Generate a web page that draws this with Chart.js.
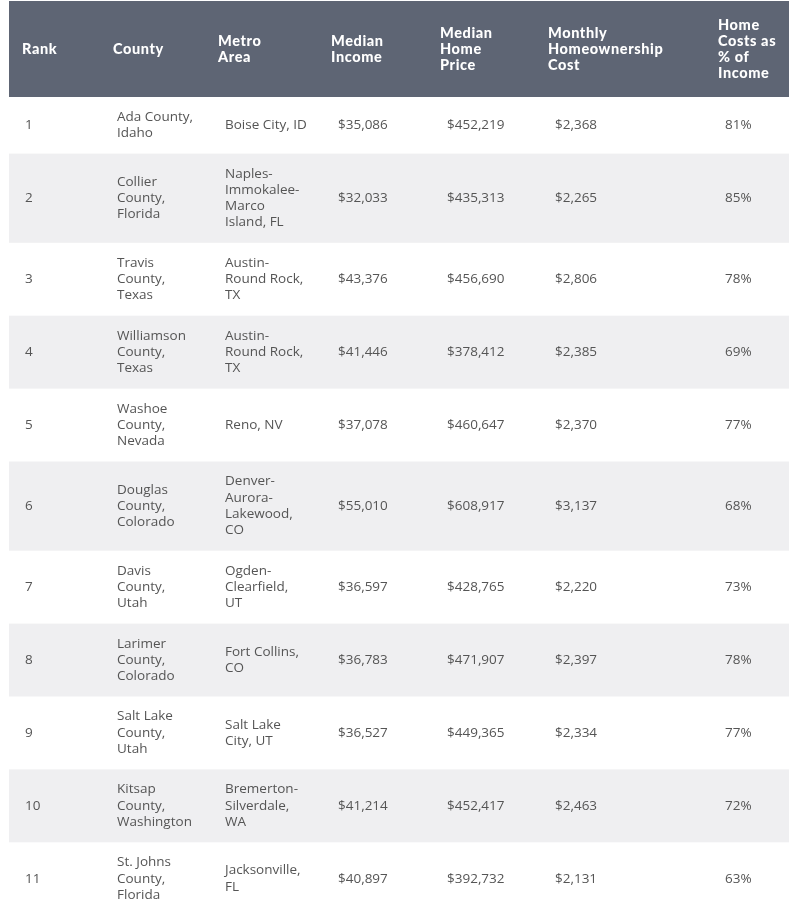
<!DOCTYPE html>
<html>
<head>
<meta charset="utf-8">
<script src="https://cdn.jsdelivr.net/npm/chart.js@4/dist/chart.umd.min.js"></script>
<style>
  html, body { margin: 0; padding: 0; background: #ffffff; overflow: hidden; }
  #wrap { width: 803px; height: 909px; }
</style>
</head>
<body>
<div id="wrap"><canvas id="tableChart" width="803" height="909"></canvas></div>
<script>
// ─── Table data ──────────────────────────────────────────────────────
const headers = [
  ["Rank"],
  ["County"],
  ["Metro", "Area"],
  ["Median", "Income"],
  ["Median", "Home", "Price"],
  ["Monthly", "Homeownership", "Cost"],
  ["Home", "Costs as", "% of", "Income"],
];
const ranks = [1, 2, 3, 4, 5, 6, 7, 8, 9, 10, 11];
const counties = [
  "Ada County,\nIdaho",
  "Collier\nCounty,\nFlorida",
  "Travis\nCounty,\nTexas",
  "Williamson\nCounty,\nTexas",
  "Washoe\nCounty,\nNevada",
  "Douglas\nCounty,\nColorado",
  "Davis\nCounty,\nUtah",
  "Larimer\nCounty,\nColorado",
  "Salt Lake\nCounty,\nUtah",
  "Kitsap\nCounty,\nWashington",
  "St. Johns\nCounty,\nFlorida",
];
const metros = [
  "Boise City, ID",
  "Naples-\nImmokalee-\nMarco\nIsland, FL",
  "Austin-\nRound Rock,\nTX",
  "Austin-\nRound Rock,\nTX",
  "Reno, NV",
  "Denver-\nAurora-\nLakewood,\nCO",
  "Ogden-\nClearfield,\nUT",
  "Fort Collins,\nCO",
  "Salt Lake\nCity, UT",
  "Bremerton-\nSilverdale,\nWA",
  "Jacksonville,\nFL",
];
const medianIncome = [35086, 32033, 43376, 41446, 37078, 55010, 36597, 36783, 36527, 41214, 40897];
const medianPrice = [452219, 435313, 456690, 378412, 460647, 608917, 428765, 471907, 449365, 452417, 392732];
const monthlyCost = [2368, 2265, 2806, 2385, 2370, 3137, 2220, 2397, 2334, 2463, 2131];
const costPct = [81, 85, 78, 69, 77, 68, 73, 78, 77, 72, 63];

// ─── Layout / style ─────────────────────────────────────────────────
const TABLE_LEFT = 9;
const TABLE_RIGHT = 789;
const TABLE_TOP = 1;
const HEAD_X = [22, 113, 218, 331, 440, 548, 718];
const CELL_X = [25, 117, 225, 338, 447, 555, 725];
const HEAD_LINE = 16;
const HEAD_PAD = 32;
const ROW_LINE = 16.3;
const ROW_PAD = 24;
const HEAD_BG = "#5e6574";
const STRIPE_BG = "#efeff1";
const TEXT_COLOR = "#555555";
const HEAD_FONT = "900 14.5px Lato";
const HEAD_SPACING = "0.6px";
const CELL_FONT = "13.5px 'Open Sans'";

const money = (v) => "$" + v.toLocaleString("en-US");

// Build row cells (arrays of lines) from the data arrays
const rows = ranks.map((r, i) => [
  [String(r)],
  counties[i].split("\n"),
  metros[i].split("\n"),
  [money(medianIncome[i])],
  [money(medianPrice[i])],
  [money(monthlyCost[i])],
  [costPct[i] + "%"],
]);

// ─── Plugin: draws the table through the chart's x / y scales ───────
const tablePlugin = {
  id: "tablePlugin",
  beforeDatasetsDraw(chart) {
    const { ctx, scales: { x, y } } = chart;
    const px = (v) => x.getPixelForValue(v);
    const py = (v) => y.getPixelForValue(v);

    ctx.save();
    ctx.textBaseline = "middle";
    ctx.textAlign = "left";

    // header
    const headLines = Math.max(...headers.map((h) => h.length));
    const headH = headLines * HEAD_LINE + HEAD_PAD;
    ctx.fillStyle = HEAD_BG;
    ctx.fillRect(px(TABLE_LEFT), py(TABLE_TOP), px(TABLE_RIGHT) - px(TABLE_LEFT), py(TABLE_TOP + headH) - py(TABLE_TOP));
    ctx.fillStyle = "#ffffff";
    ctx.font = HEAD_FONT;
    if ("letterSpacing" in ctx) ctx.letterSpacing = HEAD_SPACING;
    const headMid = TABLE_TOP + headH / 2;
    headers.forEach((lines, c) => {
      lines.forEach((t, k) => {
        const yy = headMid + (k - (lines.length - 1) / 2) * HEAD_LINE;
        ctx.fillText(t, px(HEAD_X[c]), py(yy));
      });
    });
    if ("letterSpacing" in ctx) ctx.letterSpacing = "0px";

    // body rows
    let top = TABLE_TOP + headH;
    rows.forEach((cells, r) => {
      const n = Math.max(...cells.map((c) => c.length));
      const h = n * ROW_LINE + ROW_PAD;
      if (r % 2 === 1) {
        ctx.fillStyle = STRIPE_BG;
        ctx.fillRect(px(TABLE_LEFT), py(top), px(TABLE_RIGHT) - px(TABLE_LEFT), py(top + h) - py(top));
      }
      ctx.fillStyle = TEXT_COLOR;
      ctx.font = CELL_FONT;
      const mid = top + h / 2;
      cells.forEach((lines, c) => {
        lines.forEach((t, k) => {
          const yy = mid + (k - (lines.length - 1) / 2) * ROW_LINE;
          ctx.fillText(t, px(CELL_X[c]), py(yy));
        });
      });
      top += h;
    });
    ctx.restore();
  },
};

new Chart(document.getElementById("tableChart"), {
  type: "scatter",
  data: { datasets: [{ data: [], pointRadius: 0 }] },
  options: {
    responsive: false,
    animation: false,
    layout: { padding: 0 },
    plugins: { legend: { display: false }, tooltip: { enabled: false } },
    scales: {
      x: { type: "linear", min: 0, max: 803, display: false },
      y: { type: "linear", min: 0, max: 909, reverse: true, display: false },
    },
  },
  plugins: [tablePlugin],
});
</script>
</body>
</html>
